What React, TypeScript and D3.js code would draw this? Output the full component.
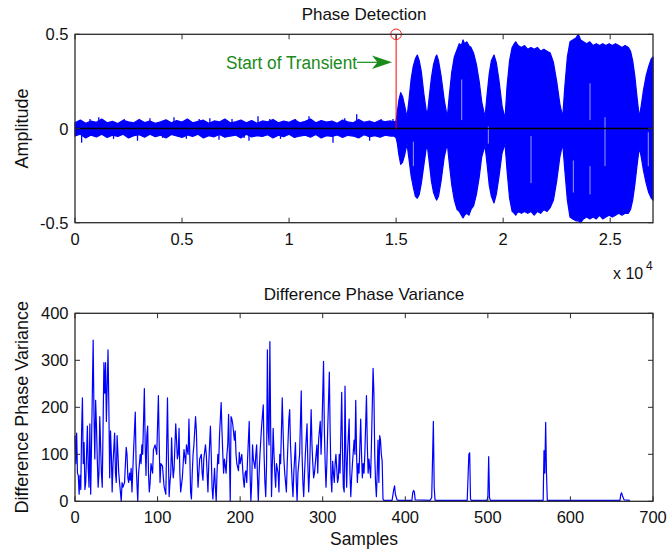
import React from 'react';
import * as d3 from 'd3';

// ---------- Top plot data (Phase Detection) ----------
const timeTickVals = [0, 5000, 10000, 15000, 20000, 25000];
const timeTickLabels = ['0', '0.5', '1', '1.5', '2', '2.5'];
const ampTicks = [-0.5, 0, 0.5];
const ampTickLabels = ['-0.5', '0', '0.5'];
const transientSample = 15000;

// pre-transient noise band, read every 250 samples (0 .. 14750)
const noiseStep = 250;
const noiseHi = [
  0.03, 0.045, 0.028, 0.04, 0.033, 0.05, 0.03, 0.038, 0.026, 0.044, 0.035, 0.03, 0.048, 0.032, 0.04,
  0.028, 0.036, 0.046, 0.03, 0.042, 0.034, 0.05, 0.03, 0.038, 0.044, 0.028, 0.04, 0.035, 0.05, 0.03,
  0.036, 0.045, 0.03, 0.042, 0.028, 0.04, 0.035, 0.048, 0.03, 0.04, 0.033, 0.046, 0.03, 0.038, 0.05,
  0.03, 0.042, 0.034, 0.04, 0.028, 0.045, 0.035, 0.03, 0.048, 0.033, 0.04, 0.03, 0.044, 0.036, 0.04,
];
const noiseLo = [
  -0.04, -0.03, -0.05, -0.035, -0.045, -0.03, -0.048, -0.036, -0.042, -0.03, -0.05, -0.038, -0.033, -0.046, -0.03,
  -0.044, -0.036, -0.05, -0.032, -0.04, -0.047, -0.034, -0.042, -0.03, -0.05, -0.038, -0.044, -0.032, -0.046, -0.04,
  -0.035, -0.05, -0.03, -0.045, -0.038, -0.042, -0.033, -0.05, -0.036, -0.044, -0.03, -0.048, -0.04, -0.035, -0.046,
  -0.032, -0.05, -0.038, -0.042, -0.034, -0.047, -0.036, -0.04, -0.05, -0.033, -0.044, -0.038, -0.046, -0.035, -0.04,
];
// envelope of the bursts after the transient (sample, upper, lower)
const burstEnvelope: [number, number, number][] = [
  [14900, 0.035, -0.04], [15000, 0.04, -0.05], [15060, 0.09, -0.08], [15130, 0.15, -0.14], [15215, 0.19, -0.19],
  [15300, 0.17, -0.18], [15400, 0.12, -0.14], [15509, 0.06, -0.08], [15600, 0.15, -0.16], [15700, 0.26, -0.25],
  [15800, 0.33, -0.31], [15900, 0.37, -0.36], [15990, 0.39, -0.37], [16080, 0.36, -0.35], [16180, 0.3, -0.29],
  [16300, 0.18, -0.19], [16400, 0.1, -0.11], [16457, 0.07, -0.09], [16550, 0.17, -0.18], [16650, 0.27, -0.28],
  [16750, 0.34, -0.34], [16850, 0.38, -0.37], [16897, 0.39, -0.38], [16980, 0.36, -0.36], [17100, 0.28, -0.28],
  [17250, 0.15, -0.15], [17392, 0.06, -0.08], [17480, 0.17, -0.18], [17600, 0.3, -0.3], [17720, 0.38, -0.38],
  [17850, 0.42, -0.43], [17950, 0.45, -0.44], [18050, 0.44, -0.46], [18125, 0.47, -0.475], [18200, 0.45, -0.46],
  [18300, 0.46, -0.45], [18400, 0.44, -0.46], [18500, 0.43, -0.43], [18620, 0.4, -0.41], [18750, 0.34, -0.35],
  [18880, 0.25, -0.26], [19000, 0.14, -0.15], [19153, 0.06, -0.09], [19250, 0.18, -0.19], [19350, 0.29, -0.3],
  [19450, 0.36, -0.36], [19573, 0.39, -0.395], [19680, 0.35, -0.35], [19800, 0.26, -0.26], [19950, 0.12, -0.13],
  [20087, 0.05, -0.08], [20180, 0.22, -0.22], [20300, 0.36, -0.37], [20420, 0.43, -0.44], [20520, 0.45, -0.45],
  [20587, 0.46, -0.46], [20700, 0.44, -0.44], [20850, 0.43, -0.45], [21000, 0.44, -0.44], [21150, 0.42, -0.45],
  [21300, 0.43, -0.44], [21450, 0.42, -0.46], [21600, 0.43, -0.44], [21750, 0.41, -0.45], [21900, 0.42, -0.43],
  [22050, 0.41, -0.44], [22200, 0.4, -0.42], [22350, 0.35, -0.38], [22500, 0.25, -0.28], [22650, 0.13, -0.15],
  [22782, 0.06, -0.08], [22880, 0.22, -0.22], [23000, 0.38, -0.38], [23123, 0.46, -0.47], [23250, 0.47, -0.48],
  [23400, 0.48, -0.49], [23511, 0.5, -0.49], [23620, 0.47, -0.5], [23750, 0.46, -0.48], [23900, 0.45, -0.47],
  [24050, 0.46, -0.48], [24200, 0.44, -0.47], [24350, 0.45, -0.48], [24500, 0.44, -0.46], [24650, 0.45, -0.48],
  [24800, 0.44, -0.47], [24950, 0.45, -0.46], [25100, 0.44, -0.47], [25250, 0.45, -0.46], [25400, 0.44, -0.45],
  [25550, 0.43, -0.46], [25700, 0.44, -0.45], [25850, 0.43, -0.45], [25950, 0.41, -0.43], [26050, 0.36, -0.38],
  [26150, 0.28, -0.3], [26250, 0.17, -0.2], [26360, 0.06, -0.1], [26450, 0.12, -0.15], [26550, 0.2, -0.22],
  [26680, 0.28, -0.29], [26800, 0.33, -0.34], [26920, 0.37, -0.37], [27000, 0.38, -0.38],
];
// isolated noise spikes before the transient (sample, amplitude)
const noiseSpikes: [number, number][] = [
  [310, -0.075], [700, 0.05], [1112, 0.06], [1800, -0.055], [2300, 0.05], [2920, -0.065], [3500, 0.055],
  [4100, -0.05], [4625, 0.06], [5200, -0.055], [5800, 0.05], [6300, 0.055], [6727, -0.06], [7334, 0.05],
  [7900, -0.05], [8128, -0.065], [8549, 0.065], [9100, 0.05], [9600, -0.055], [10300, 0.05], [10931, 0.065],
  [11500, -0.05], [12052, -0.075], [12600, 0.055], [13159, 0.075], [13762, -0.065], [14300, 0.05], [14855, 0.05],
];
// light gaps inside the bursts (sample, from, to)
const streaks: [number, number, number][] = [
  [15805, -0.07, -0.2], [18064, 0.26, 0.045], [19309, 0.01, -0.08], [21302, -0.04, -0.29],
  [23279, -0.17, -0.34], [24058, 0.24, 0.045], [24058, -0.2, -0.35], [24758, 0.06, -0.2], [26781, -0.02, -0.2],
];

// ---------- Bottom plot data (Difference Phase Variance) ----------
const sampleTicks = [0, 100, 200, 300, 400, 500, 600, 700];
const varianceTicks = [0, 100, 200, 300, 400];
const variancePoints: [number, number][] = [
  [0,140],[1,80],[2,145],[3,60],[4,55],[5,15],[6,55],[7,25],[8,150],[9,220],[10,80],[11,125],[12,25],[13,40],
  [14,100],[15,160],[16,70],[17,30],[18,165],[19,15],[20,120],[22,343],[23,180],[24,90],[25,215],[26,160],
  [27,90],[28,30],[29,60],[30,180],[31,120],[32,60],[33,30],[34,160],[35,295],[36,230],[37,295],[38,170],
  [40,322],[41,200],[42,50],[43,150],[44,100],[45,20],[46,80],[48,145],[49,60],[50,40],[51,140],[52,100],
  [53,60],[54,40],[55,20],[56,0],[57,40],[58,30],[60,40],[62,115],[63,100],[64,50],[65,40],[66,60],[67,45],
  [68,70],[69,20],[71,110],[73,190],[74,80],[76,0],[77,60],[79,100],[80,80],[81,120],[82,100],[84,240],
  [85,120],[86,55],[87,140],[88,160],[89,60],[90,20],[91,40],[92,80],[94,60],[95,110],[97,120],[99,100],
  [101,225],[102,120],[103,40],[104,80],[106,75],[107,50],[108,30],[110,15],[112,220],[113,100],[114,10],
  [115,40],[116,60],[117,135],[118,80],[119,50],[120,70],[122,165],[123,130],[124,90],[125,100],[126,155],
  [127,60],[128,20],[130,50],[131,80],[132,110],[134,80],[135,120],[137,100],[138,175],[139,100],[140,20],
  [141,5],[142,60],[143,100],[144,120],[146,180],[147,150],[148,80],[149,30],[150,60],[151,90],[153,100],
  [154,60],[155,45],[156,90],[158,120],[159,100],[160,60],[161,20],[162,80],[164,160],[165,100],[166,30],
  [167,5],[168,40],[169,70],[170,30],[171,0],[172,60],[173,100],[174,80],[175,140],[177,210],[178,150],
  [179,100],[180,60],[181,90],[183,60],[184,100],[185,120],[186,185],[187,100],[188,0],[189,180],[190,175],
  [191,165],[193,130],[194,150],[195,100],[196,80],[198,65],[199,104],[200,80],[202,100],[203,70],[204,45],
  [205,30],[206,60],[207,65],[208,40],[209,90],[211,170],[212,60],[213,0],[214,40],[215,120],[216,90],
  [218,70],[219,100],[220,120],[221,50],[222,0],[223,60],[224,100],[226,160],[228,205],[229,100],[230,40],
  [231,10],[232,80],[233,322],[234,150],[235,120],[236,340],[237,150],[238,10],[239,80],[240,155],[241,100],
  [242,60],[243,30],[244,80],[246,60],[247,20],[248,100],[249,80],[251,220],[252,150],[253,90],[254,60],
  [256,20],[257,80],[259,175],[260,195],[261,120],[262,80],[263,40],[264,10],[265,60],[267,125],[268,40],
  [269,0],[270,60],[272,100],[274,235],[275,100],[276,40],[277,10],[278,60],[279,100],[281,165],[282,80],
  [283,20],[284,60],[286,195],[287,120],[288,80],[289,50],[290,60],[292,100],[293,120],[294,60],[295,130],
  [297,170],[298,100],[299,150],[301,298],[302,150],[303,80],[304,30],[305,80],[306,150],[308,275],[309,150],
  [310,50],[311,20],[312,85],[313,60],[314,40],[315,80],[316,100],[317,70],[318,40],[319,50],[320,100],
  [321,60],[323,232],[324,100],[325,30],[326,20],[327,245],[328,100],[329,30],[330,100],[332,175],[333,60],
  [334,10],[335,50],[336,80],[338,130],[339,100],[340,215],[341,100],[342,40],[343,80],[344,60],[346,175],
  [347,100],[348,50],[349,80],[350,60],[351,100],[353,225],[354,120],[355,60],[356,90],[357,70],[358,50],
  [359,120],[361,283],[362,230],[363,100],[364,40],[365,10],[366,60],[367,130],[368,40],[369,140],[370,130],
  [371,100],[372,85],[373,5],[374,2],
  [384,2],[386,25],[387,33],[388,15],[390,3],[392,2],[408,2],[409,18],[410,23],[411,20],[412,3],
  [430,2],[432,8],[434,170],[435,30],[436,3],[437,2],[475,2],[477,100],[478,103],[479,5],[480,2],
  [499,2],[500,10],[501,95],[502,8],[503,2],[567,2],[568,108],[569,60],[570,168],[571,60],[572,2],
  [660,2],[661,15],[662,18],[663,12],[665,3],[672,2],
];

const FONT = '"Liberation Sans", Arial, Helvetica, sans-serif';
const FRAME = '#2b2b2b';
const BLUE = '#0000ff';

const L = 75, R = 653;
const top1 = 34.3, bot1 = 222.7;
const top2 = 313.3, bot2 = 501.3;
const TL = 5;

type Env = { s: number; hi: number; lo: number };

export default function App() {
  const xT = d3.scaleLinear().domain([0, 27000]).range([L, R]);
  const yA = d3.scaleLinear().domain([-0.5, 0.5]).range([bot1, top1]);
  const xS = d3.scaleLinear().domain([0, 700]).range([L, R]);
  const yV = d3.scaleLinear().domain([0, 400]).range([bot2, top2]);

  const envData: Env[] = [
    ...noiseHi.map((hi, i) => ({ s: i * noiseStep, hi, lo: noiseLo[i] })),
    ...burstEnvelope.map(([s, hi, lo]) => ({ s, hi, lo })),
  ];
  const area = d3.area<Env>().x(d => xT(d.s)).y0(d => yA(d.lo)).y1(d => yA(d.hi));
  const line = d3.line<[number, number]>().x(d => xS(d[0])).y(d => yV(d[1]));

  const frame = (t: number, b: number) => (
    <rect x={L} y={t} width={R - L} height={b - t} fill="none" stroke={FRAME} strokeWidth={1.3} />
  );

  return (
    <svg width={669} height={555} style={{ position: 'absolute', left: 0, top: 0, background: '#fff' }}
      fontFamily={FONT}>
      <rect width={669} height={555} fill="#fff" />
      {/* ---------- top plot ---------- */}
      <text x={(L + R) / 2} y={20} textAnchor="middle" fontSize={17} fill="#111">Phase Detection</text>
      <path d={area(envData) || ''} fill={BLUE} stroke={BLUE} strokeWidth={1.2} strokeLinejoin="round" />
      {noiseSpikes.map(([s, v], i) => (
        <line key={'n' + i} x1={xT(s)} x2={xT(s)} y1={yA(0)} y2={yA(v)} stroke={BLUE} strokeWidth={1.3} />
      ))}
      {streaks.map(([s, a, b], i) => (
        <line key={'s' + i} x1={xT(s)} x2={xT(s)} y1={yA(a)} y2={yA(b)} stroke="#9a9aff" strokeWidth={1} />
      ))}
      <line x1={L} x2={R} y1={yA(0)} y2={yA(0)} stroke="#000" strokeWidth={1.5} />
      <line x1={xT(transientSample)} x2={xT(transientSample)} y1={yA(0)} y2={yA(0.5)} stroke="#ff0000" strokeWidth={1} />
      <circle cx={xT(transientSample)} cy={yA(0.5)} r={5.3} fill="none" stroke="#ff2020" strokeWidth={1} />
      <text x={226} y={69} fontSize={18} fill="#1a8a1a" textLength={131} lengthAdjust="spacingAndGlyphs">Start of Transient</text>
      <line x1={357} x2={380} y1={62.3} y2={62.3} stroke="#1a8a1a" strokeWidth={1.2} />
      <path d="M392,62.3 L372,55.6 L377.5,62.3 L372,69 Z" fill="#1a8a1a" />
      {frame(top1, bot1)}
      {timeTickVals.map((v, i) => (
        <g key={'tx' + i}>
          <line x1={xT(v)} x2={xT(v)} y1={bot1} y2={bot1 - TL} stroke={FRAME} />
          <line x1={xT(v)} x2={xT(v)} y1={top1} y2={top1 + TL} stroke={FRAME} />
          <text x={xT(v)} y={bot1 + 22} textAnchor="middle" fontSize={16.5} fill="#111">{timeTickLabels[i]}</text>
        </g>
      ))}
      {ampTicks.map((v, i) => (
        <g key={'ty' + i}>
          <line x1={L} x2={L + TL} y1={yA(v)} y2={yA(v)} stroke={FRAME} />
          <line x1={R} x2={R - TL} y1={yA(v)} y2={yA(v)} stroke={FRAME} />
          <text x={68.5} y={yA(v) + 6} textAnchor="end" fontSize={16.5} fill="#111">{ampTickLabels[i]}</text>
        </g>
      ))}
      <text x={613} y={279} fontSize={16} fill="#111">x 10</text>
      <text x={646} y={270} fontSize={12} fill="#111">4</text>
      <text transform={`translate(28,${(top1 + bot1) / 2}) rotate(-90)`} textAnchor="middle" fontSize={18} fill="#111">Amplitude</text>

      {/* ---------- bottom plot ---------- */}
      <text x={(L + R) / 2} y={300} textAnchor="middle" fontSize={17} fill="#111">Difference Phase Variance</text>
      <path d={line(variancePoints) || ''} fill="none" stroke={BLUE} strokeWidth={1.2} strokeLinejoin="round" />
      {frame(top2, bot2)}
      {sampleTicks.map((v, i) => (
        <g key={'bx' + i}>
          <line x1={xS(v)} x2={xS(v)} y1={bot2} y2={bot2 - TL} stroke={FRAME} />
          <line x1={xS(v)} x2={xS(v)} y1={top2} y2={top2 + TL} stroke={FRAME} />
          <text x={xS(v)} y={bot2 + 22} textAnchor="middle" fontSize={16.5} fill="#111">{String(v)}</text>
        </g>
      ))}
      {varianceTicks.map((v, i) => (
        <g key={'by' + i}>
          <line x1={L} x2={L + TL} y1={yV(v)} y2={yV(v)} stroke={FRAME} />
          <line x1={R} x2={R - TL} y1={yV(v)} y2={yV(v)} stroke={FRAME} />
          <text x={68.5} y={yV(v) + 6} textAnchor="end" fontSize={16.5} fill="#111">{String(v)}</text>
        </g>
      ))}
      <text x={(L + R) / 2} y={545} textAnchor="middle" fontSize={17.5} fill="#111">Samples</text>
      <text transform={`translate(28,${(top2 + bot2) / 2}) rotate(-90)`} textAnchor="middle" fontSize={18} fill="#111">Difference Phase Variance</text>
    </svg>
  );
}
